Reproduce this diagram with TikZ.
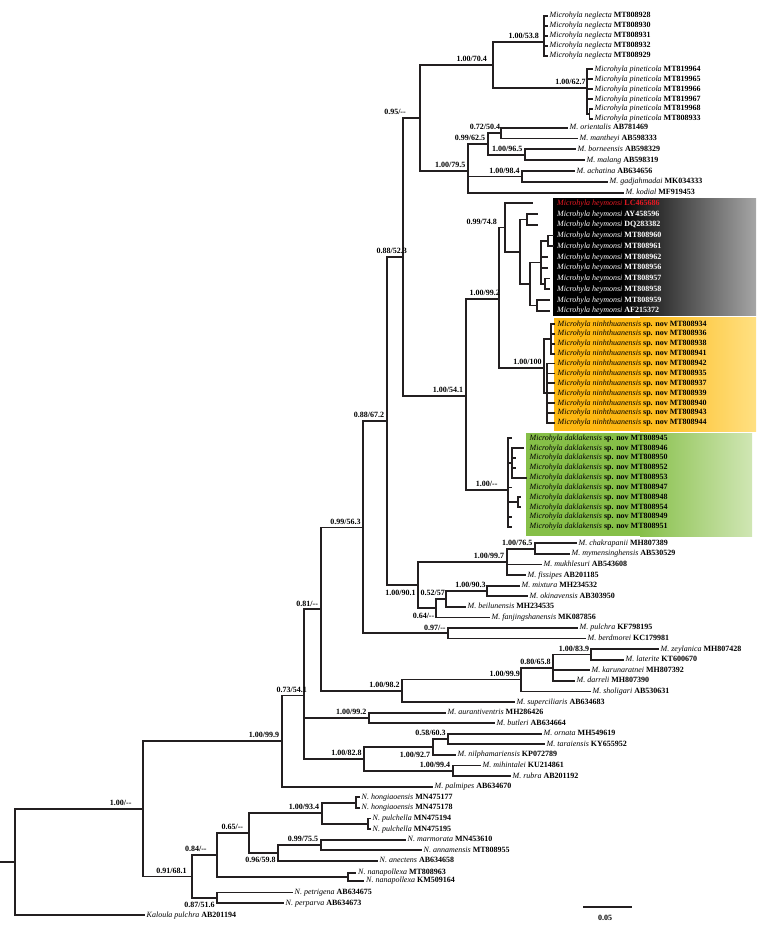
\documentclass[tikz,border=0pt]{standalone}
\usepackage{fontspec}
\setmainfont{Liberation Serif}
\usepackage{xcolor}
\usepackage{tikz}
\definecolor{brc}{RGB}{35,31,32}
\definecolor{heyred}{RGB}{230,25,35}
\definecolor{ninhL}{RGB}{253,184,19}
\definecolor{ninhR}{RGB}{255,224,130}
\definecolor{dakL}{RGB}{134,191,72}
\definecolor{dakR}{RGB}{208,230,180}
\tikzset{
  br/.style={draw=brc,line width=1.8pt,line cap=rect},
  tip/.style={anchor=west,inner xsep=2.5pt,inner ysep=0pt,text height=5.5pt,text depth=1.5pt,font=\fontsize{8}{9}\selectfont},
  bs/.style={anchor=south east,inner sep=0pt,text height=5.3pt,text depth=0pt,xshift=-2.5pt,yshift=3pt,font=\bfseries\fontsize{8}{9}\selectfont},
  bsb/.style={bs,anchor=north east,yshift=-7.5pt}
}
\newcommand{\taxon}[2]{\textit{#1} \textbf{#2}}
\newcommand{\dashes}{-\kern0pt-}
\newcommand{\clade}[4]{\coordinate (#1) at (#3,#4); \draw[br] (#2) |- (#1);}
\newcommand{\addleaf}[5]{\node[tip] (#1) at (#3,#4) {#5}; \draw[br] (#2) |- (#1.west);}
\newcommand{\addboxleaf}[6]{\coordinate (#1e) at (#3,#4); \node[tip] (#1) at (#5,#4) {#6}; \draw[br] (#2) |- (#1e);}

\begin{document}
\begin{tikzpicture}[x=1pt,y=-1pt]
\useasboundingbox (0,0) rectangle (756,934);
\fill[black] (553,198.3) rectangle (621,315.7);
\shade[left color=black,right color=gray!70] (620,198.3) rectangle (756,315.7);
\fill[ninhL] (554,317.6) rectangle (641,431);
\shade[left color=ninhL,right color=ninhR] (640,317.6) rectangle (756,431);
\fill[dakL] (526,433.3) rectangle (641,536);
\shade[left color=dakL,right color=dakR] (640,433.3) rectangle (752,536);

\coordinate (r0) at (0,861.9);
\clade{root}{r0}{15}{861.9}
\clade{nA}{root}{142.7}{808.8}
\clade{nB}{nA}{281.7}{741.1}
\clade{nC}{nB}{304}{695.5}
\clade{nD}{nC}{320.7}{609.2}
\clade{nE}{nD}{363.3}{527.5}
\clade{nF}{nE}{386.7}{421}
\clade{nG}{nF}{403}{257}
\clade{nH}{nG}{420}{118}
\clade{nI}{nH}{493}{65}
\clade{nNeg}{nI}{544}{41.7}
\addleaf{neg928}{nNeg}{547}{15.7}{\taxon{Microhyla neglecta}{MT808928}}
\addleaf{neg930}{nNeg}{547}{25.7}{\taxon{Microhyla neglecta}{MT808930}}
\addleaf{neg931}{nNeg}{547}{35.7}{\taxon{Microhyla neglecta}{MT808931}}
\addleaf{neg932}{nNeg}{547}{45.7}{\taxon{Microhyla neglecta}{MT808932}}
\addleaf{neg929}{nNeg}{547}{55.7}{\taxon{Microhyla neglecta}{MT808929}}
\clade{nPin}{nI}{586.7}{88}
\addleaf{pin964}{nPin}{592}{69.3}{\taxon{Microhyla pineticola}{MT819964}}
\addleaf{pin965}{nPin}{592}{79.2}{\taxon{Microhyla pineticola}{MT819965}}
\addleaf{pin966}{nPin}{592}{89.1}{\taxon{Microhyla pineticola}{MT819966}}
\addleaf{pin967}{nPin}{592}{99.0}{\taxon{Microhyla pineticola}{MT819967}}
\clade{nPin2}{nPin}{589.5}{113.9}
\addleaf{pin968}{nPin2}{592}{108.9}{\taxon{Microhyla pineticola}{MT819968}}
\addleaf{pin933}{nPin2}{592}{118.8}{\taxon{Microhyla pineticola}{MT808933}}
\clade{nJ}{nH}{468}{171}
\clade{nK}{nJ}{487.7}{144}
\clade{nL}{nK}{500.7}{133.1}
\addleaf{orie}{nL}{567}{127.7}{\taxon{M. orientalis}{AB781469}}
\addleaf{mant}{nL}{577}{138.5}{\taxon{M. mantheyi}{AB598333}}
\clade{nM}{nK}{525}{154.8}
\addleaf{born}{nM}{575}{149.3}{\taxon{M. borneensis}{AB598329}}
\addleaf{mala}{nM}{584}{160.2}{\taxon{M. malang}{AB598319}}
\clade{nN}{nJ}{522.3}{176.4}
\addleaf{acha}{nN}{574}{171}{\taxon{M. achatina}{AB634656}}
\addleaf{gadj}{nN}{607}{181.8}{\taxon{M. gadjahmadai}{MK034333}}
\addleaf{kodi}{nJ}{623}{192.7}{\taxon{M. kodial}{MF919453}}

\clade{nO}{nG}{465.7}{396}
\clade{nP}{nO}{499}{298.7}
\clade{h1}{nP}{505}{227.5}
\addboxleaf{hey686}{h1}{532}{203.3}{554.5}{\color{heyred}\taxon{Microhyla heymonsi}{LC465686}}
\clade{h2}{h1}{520}{251.6}
\clade{h3}{h2}{527}{219.4}
\addboxleaf{hey596}{h3}{537}{214}{554.5}{\color{white}\taxon{Microhyla heymonsi}{AY458596}}
\addboxleaf{hey382}{h3}{537}{224.8}{554.5}{\color{white}\taxon{Microhyla heymonsi}{DQ283382}}
\clade{h4}{h2}{530}{283.9}
\clade{h5}{h4}{541}{262.4}
\clade{h5a}{h5}{548}{240.9}
\addboxleaf{hey960}{h5a}{553}{235.5}{554.5}{\color{white}\taxon{Microhyla heymonsi}{MT808960}}
\addboxleaf{hey961}{h5a}{553}{246.3}{554.5}{\color{white}\taxon{Microhyla heymonsi}{MT808961}}
\addboxleaf{hey962}{h5}{547}{257}{554.5}{\color{white}\taxon{Microhyla heymonsi}{MT808962}}
\addboxleaf{hey956}{h5}{547}{267.7}{554.5}{\color{white}\taxon{Microhyla heymonsi}{MT808956}}
\clade{h5b}{h5}{545}{283.9}
\addboxleaf{hey957}{h5b}{549}{278.5}{554.5}{\color{white}\taxon{Microhyla heymonsi}{MT808957}}
\addboxleaf{hey958}{h5b}{549}{289.2}{554.5}{\color{white}\taxon{Microhyla heymonsi}{MT808958}}
\clade{h6}{h4}{537}{305.4}
\addboxleaf{hey959}{h6}{549}{300}{554.5}{\color{white}\taxon{Microhyla heymonsi}{MT808959}}
\addboxleaf{hey372}{h6}{549}{310.7}{554.5}{\color{white}\taxon{Microhyla heymonsi}{AF215372}}

\clade{nQ}{nP}{544.3}{368}
\clade{q1}{nQ}{550.7}{338.8}
\addboxleaf{nin934}{q1}{554}{324}{555}{\taxon{Microhyla ninhthuanensis}{sp. nov MT808934}}
\addboxleaf{nin936}{q1}{554}{333.9}{555}{\taxon{Microhyla ninhthuanensis}{sp. nov MT808936}}
\addboxleaf{nin938}{q1}{554}{343.7}{555}{\taxon{Microhyla ninhthuanensis}{sp. nov MT808938}}
\addboxleaf{nin941}{q1}{554}{353.6}{555}{\taxon{Microhyla ninhthuanensis}{sp. nov MT808941}}
\clade{q2}{nQ}{546.7}{393.1}
\addboxleaf{nin942}{q2}{554}{363.5}{555}{\taxon{Microhyla ninhthuanensis}{sp. nov MT808942}}
\addboxleaf{nin935}{q2}{554}{373.4}{555}{\taxon{Microhyla ninhthuanensis}{sp. nov MT808935}}
\addboxleaf{nin937}{q2}{554}{383.2}{555}{\taxon{Microhyla ninhthuanensis}{sp. nov MT808937}}
\addboxleaf{nin939}{q2}{554}{393.1}{555}{\taxon{Microhyla ninhthuanensis}{sp. nov MT808939}}
\addboxleaf{nin940}{q2}{554}{403}{555}{\taxon{Microhyla ninhthuanensis}{sp. nov MT808940}}
\addboxleaf{nin943}{q2}{554}{412.8}{555}{\taxon{Microhyla ninhthuanensis}{sp. nov MT808943}}
\addboxleaf{nin944}{q2}{554}{422.7}{555}{\taxon{Microhyla ninhthuanensis}{sp. nov MT808944}}

\clade{nR}{nO}{507.7}{490}
\addboxleaf{dak945}{nR}{511}{438.3}{527}{\taxon{Microhyla daklakensis}{sp. nov MT808945}}
\clade{d2}{nR}{511.7}{462.9}
\addboxleaf{dak946}{d2}{523}{448.1}{527}{\taxon{Microhyla daklakensis}{sp. nov MT808946}}
\addboxleaf{dak950}{d2}{515}{457.9}{527}{\taxon{Microhyla daklakensis}{sp. nov MT808950}}
\addboxleaf{dak952}{d2}{515}{467.8}{527}{\taxon{Microhyla daklakensis}{sp. nov MT808952}}
\addboxleaf{dak953}{d2}{526}{477.6}{527}{\taxon{Microhyla daklakensis}{sp. nov MT808953}}
\addboxleaf{dak947}{nR}{511}{487.4}{527}{\taxon{Microhyla daklakensis}{sp. nov MT808947}}
\clade{d3}{nR}{517.7}{502.2}
\addboxleaf{dak948}{d3}{520}{497.2}{527}{\taxon{Microhyla daklakensis}{sp. nov MT808948}}
\addboxleaf{dak954}{d3}{520}{507.1}{527}{\taxon{Microhyla daklakensis}{sp. nov MT808954}}
\addboxleaf{dak949}{nR}{511}{516.9}{527}{\taxon{Microhyla daklakensis}{sp. nov MT808949}}
\addboxleaf{dak951}{nR}{511}{526.7}{527}{\taxon{Microhyla daklakensis}{sp. nov MT808951}}

\clade{nS}{nF}{418.3}{585}
\clade{nT}{nS}{506.7}{561.8}
\clade{nU}{nT}{535}{548.6}
\addleaf{chak}{nU}{576}{543.3}{\taxon{M. chakrapanii}{MH807389}}
\addleaf{myme}{nU}{569}{553.9}{\taxon{M. mymensinghensis}{AB530529}}
\addleaf{mukh}{nT}{541}{564.5}{\taxon{M. mukhlesuri}{AB543608}}
\addleaf{fiss}{nT}{525}{575}{\taxon{M. fissipes}{AB201185}}
\clade{nV}{nS}{436}{608.2}
\clade{nW}{nV}{446}{598.9}
\clade{nX}{nW}{486.7}{590.9}
\addleaf{mixt}{nX}{519}{585.6}{\taxon{M. mixtura}{MH234532}}
\addleaf{okin}{nX}{527}{596.2}{\taxon{M. okinavensis}{AB303950}}
\addleaf{beil}{nW}{465}{606.8}{\taxon{M. beilunensis}{MH234535}}
\addleaf{fanj}{nV}{489}{617.4}{\taxon{M. fanjingshanensis}{MK087856}}
\clade{nY}{nE}{448.3}{633.2}
\addleaf{pulc}{nY}{577}{627.9}{\taxon{M. pulchra}{KF798195}}
\addleaf{berd}{nY}{585}{638.5}{\taxon{M. berdmorei}{KC179981}}
\clade{nZ}{nD}{402.3}{690.8}
\clade{nAA}{nZ}{521}{679.5}
\clade{nAB}{nAA}{553.3}{667.6}
\clade{nAC}{nAB}{590.7}{654.4}
\addleaf{zeyl}{nAC}{658}{649.1}{\taxon{M. zeylanica}{MH807428}}
\addleaf{late}{nAC}{623}{659.7}{\taxon{M. laterite}{KT600670}}
\addleaf{karu}{nAB}{589}{670.3}{\taxon{M. karunaratnei}{MH807392}}
\addleaf{darr}{nAB}{574}{680.8}{\taxon{M. darreli}{MH807390}}
\addleaf{shol}{nAA}{590}{691.4}{\taxon{M. sholigari}{AB530631}}
\addleaf{supe}{nZ}{514}{702}{\taxon{M. superciliaris}{AB634683}}
\clade{nAD}{nC}{369}{717.9}
\addleaf{aura}{nAD}{445}{712.6}{\taxon{M. aurantiventris}{MH286426}}
\addleaf{butl}{nAD}{494}{723.2}{\taxon{M. butleri}{AB634664}}
\clade{nAE}{nC}{364.3}{758.9}
\clade{nAF}{nAE}{432.7}{747}
\clade{nAG}{nAF}{448.3}{739}
\addleaf{orna}{nAG}{541}{733.7}{\taxon{M. ornata}{MH549619}}
\addleaf{tara}{nAG}{544}{744.3}{\taxon{M. taraiensis}{KY655952}}
\addleaf{nilp}{nAF}{455}{754.9}{\taxon{M. nilphamariensis}{KP072789}}
\clade{nAH}{nAE}{452.7}{770.8}
\addleaf{mihi}{nAH}{480}{765.5}{\taxon{M. mihintalei}{KU214861}}
\addleaf{rubr}{nAH}{510}{776.1}{\taxon{M. rubra}{AB201192}}
\addleaf{palm}{nB}{432}{786.7}{\taxon{M. palmipes}{AB634670}}

\clade{nAI}{nA}{192.3}{876.4}
\clade{nAJ}{nAI}{217.3}{854.9}
\clade{nAK}{nAJ}{249.3}{833}
\clade{nAL}{nAK}{321.7}{813.1}
\clade{nAM}{nAL}{356}{802.6}
\addleaf{hon177}{nAM}{359}{797.3}{\taxon{N. hongiaoensis}{MN475177}}
\addleaf{hon178}{nAM}{359}{807.8}{\taxon{N. hongiaoensis}{MN475178}}
\clade{nAN}{nAL}{367.7}{823.7}
\addleaf{pul194}{nAN}{370}{818.4}{\taxon{N. pulchella}{MN475194}}
\addleaf{pul195}{nAN}{370}{829}{\taxon{N. pulchella}{MN475195}}
\clade{nAO}{nAK}{278.3}{852.8}
\clade{nAP}{nAO}{320.7}{844.9}
\addleaf{marm}{nAP}{405}{839.6}{\taxon{N. marmorata}{MN453610}}
\addleaf{anna}{nAP}{421}{850.2}{\taxon{N. annamensis}{MT808955}}
\addleaf{anec}{nAO}{377}{860.7}{\taxon{N. anectens}{AB634658}}
\clade{nAQ}{nAJ}{348.3}{876.8}
\addleaf{nan963}{nAQ}{355.5}{872.7}{\taxon{N. nanapollexa}{MT808963}}
\addleaf{nan164}{nAQ}{363.5}{880.9}{\taxon{N. nanapollexa}{KM509164}}
\clade{nAR}{nAI}{217.3}{897.8}
\addleaf{petr}{nAR}{292}{892.5}{\taxon{N. petrigena}{AB634675}}
\addleaf{perp}{nAR}{283}{903}{\taxon{N. perparva}{AB634673}}
\addleaf{kalo}{root}{144}{915}{\taxon{Kaloula pulchra}{AB201194}}

\node[bs,xshift=-8.5pt] (sA) at (nA) {1.00/\dashes};
\node[bs] (sB) at (nB) {1.00/99.9};
\node[bs,xshift=5.5pt] (sC) at (nC) {0.73/54.1};
\node[bs] (sD) at (nD) {0.81/\dashes};
\node[bs] (sE) at (nE) {0.99/56.3};
\node[bs] (sF) at (nF) {0.88/67.2};
\node[bs,xshift=6.5pt] (sG) at (nG) {0.88/52.3};
\node[bs,xshift=-11.5pt] (sH) at (nH) {0.95/\dashes};
\node[bs,xshift=-3.5pt] (sI) at (nI) {1.00/70.4};
\node[bs,xshift=-2.5pt] (sNeg) at (nNeg) {1.00/53.8};
\node[bs,xshift=1.5pt] (sPin) at (nPin) {1.00/62.7};
\node[bs] (sJ) at (nJ) {1.00/79.5};
\node[bs] (sK) at (nK) {0.99/62.5};
\node[bs,xshift=2pt] (sL) at (nL) {0.72/50.4};
\node[bs] (sM) at (nM) {1.00/96.5};
\node[bs] (sN) at (nN) {1.00/98.4};
\node[bs] (sO) at (nO) {1.00/54.1};
\node[bs,xshift=3.5pt] (sP) at (nP) {1.00/99.2};
\node[bs,xshift=-5.5pt] (sh1) at (h1) {0.99/74.8};
\node[bs] (sQ) at (nQ) {1.00/100};
\node[bs,xshift=-7.5pt] (sR) at (nR) {1.00/\dashes};
\node[bsb] (sS) at (nS) {1.00/90.1};
\node[bs] (sT) at (nT) {1.00/99.7};
\node[bs] (sU) at (nU) {1.00/76.5};
\node[bsb,xshift=1pt] (sV) at (nV) {0.64/\dashes};
\node[bs,xshift=1.5pt] (sW) at (nW) {0.52/57};
\node[bs,xshift=1.5pt] (sX) at (nX) {1.00/90.3};
\node[bs] (sY) at (nY) {0.97/\dashes};
\node[bs] (sZ) at (nZ) {1.00/98.2};
\node[bs,xshift=1.5pt] (sAA) at (nAA) {1.00/99.9};
\node[bs] (sAB) at (nAB) {0.80/65.8};
\node[bs,xshift=1pt] (sAC) at (nAC) {1.00/83.9};
\node[bs] (sAD) at (nAD) {1.00/99.2};
\node[bs] (sAE) at (nAE) {1.00/82.8};
\node[bsb] (sAF) at (nAF) {1.00/92.7};
\node[bs] (sAG) at (nAG) {0.58/60.3};
\node[bs] (sAH) at (nAH) {1.00/99.4};
\node[bs,xshift=-3pt] (sAI) at (nAI) {0.91/68.1};
\node[bs,xshift=-8pt] (sAJ) at (nAJ) {0.84/\dashes};
\node[bs,xshift=-3.5pt] (sAK) at (nAK) {0.65/\dashes};
\node[bs] (sAL) at (nAL) {1.00/93.4};
\node[bsb] (sAO) at (nAO) {0.96/59.8};
\node[bs] (sAP) at (nAP) {0.99/75.5};
\node[bsb] (sAR) at (nAR) {0.87/51.6};

\coordinate (sbl) at (584,907);
\coordinate (sbr) at (631,907);
\draw[br] (sbl) -- (sbr);
\node[bs,anchor=center,xshift=0pt,yshift=0pt] (sblab) at (607.5,921) {0.05};
\end{tikzpicture}
\end{document}
